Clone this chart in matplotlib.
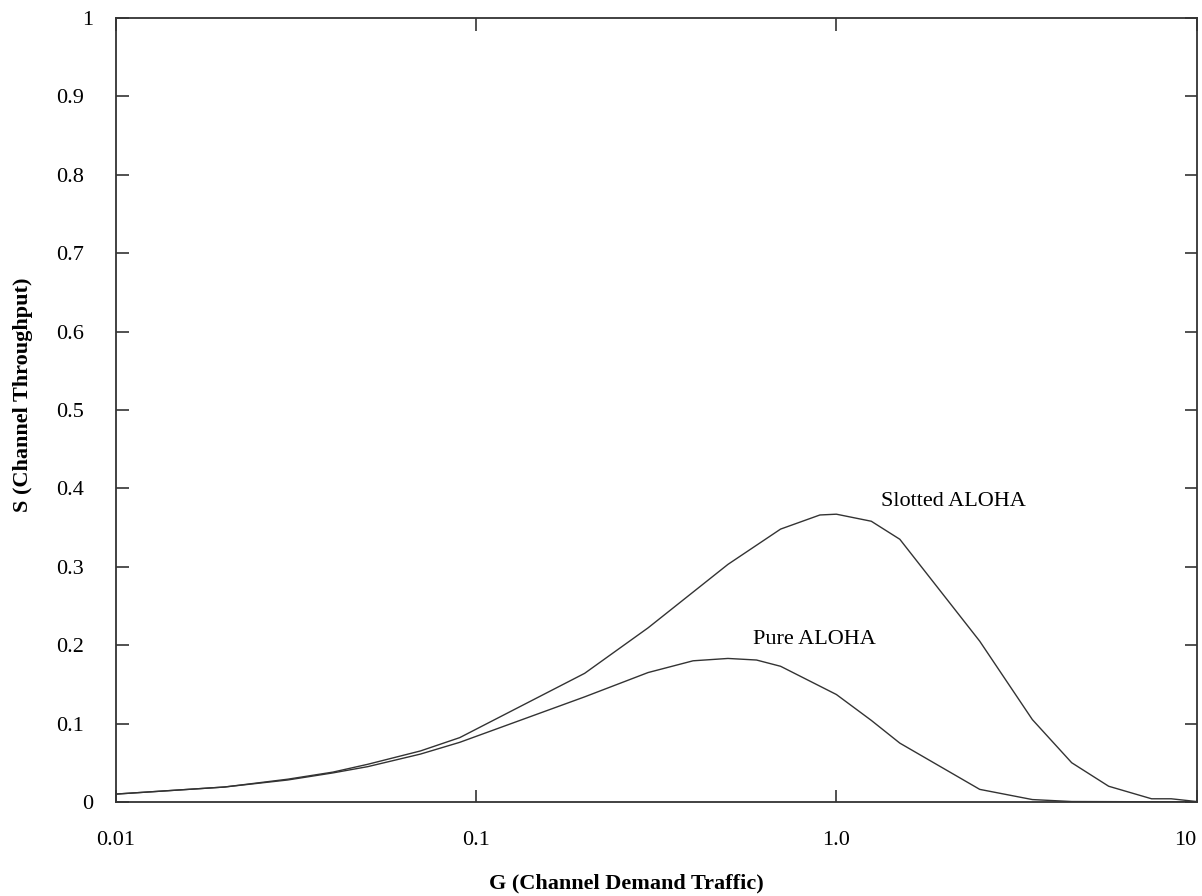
import matplotlib.pyplot as plt
import matplotlib.ticker as mticker
import matplotlib.transforms as mtransforms

# values
g_slotted = [0.01, 0.02, 0.03, 0.04, 0.05, 0.07, 0.09, 0.2, 0.3, 0.5, 0.7, 0.9,
             1.0, 1.25, 1.5, 2.5, 3.5, 4.5, 5.7, 7.5, 8.5, 10]
s_slotted = [0.010, 0.019, 0.029, 0.038, 0.048, 0.065, 0.082, 0.164, 0.222, 0.303,
             0.348, 0.366, 0.367, 0.358, 0.335, 0.205, 0.105, 0.050, 0.020, 0.004,
             0.004, 0.0005]

g_pure = [0.01, 0.02, 0.03, 0.04, 0.05, 0.07, 0.09, 0.2, 0.3, 0.4, 0.5, 0.6, 0.7,
          1.0, 1.25, 1.5, 2.5, 3.5, 4.5, 10]
s_pure = [0.010, 0.019, 0.028, 0.037, 0.045, 0.061, 0.076, 0.134, 0.165, 0.180,
          0.183, 0.181, 0.173, 0.137, 0.104, 0.075, 0.016, 0.003, 0.0005, 0.0]

x_ticks = [0.01, 0.1, 1.0, 10]
x_labels = ['0.01', '0.1', '1.0', '10']
y_ticks = [0, 0.1, 0.2, 0.3, 0.4, 0.5, 0.6, 0.7, 0.8, 0.9, 1]
y_labels = ['0', '0.1', '0.2', '0.3', '0.4', '0.5', '0.6', '0.7', '0.8', '0.9', '1']

plt.rcParams['font.family'] = ['Liberation Serif', 'DejaVu Serif']

fig = plt.figure(figsize=(12.02, 8.96), dpi=100)
ax = fig.add_axes([0.0965, 0.105, 0.899, 0.875])

ax.plot(g_slotted, s_slotted, color='#333333', linewidth=1.0)
ax.plot(g_pure, s_pure, color='#333333', linewidth=1.0)

ax.text(2.11, 0.383, 'Slotted ALOHA', fontsize=16, ha='center', va='center')
ax.text(0.87, 0.207, 'Pure ALOHA', fontsize=16, ha='center', va='center')

ax.set_xscale('log')
ax.set_xlim(0.01, 10)
ax.set_ylim(0, 1)
ax.set_xticks(x_ticks)
ax.set_xticklabels(x_labels)
ax.set_yticks(y_ticks)
ax.set_yticklabels(y_labels)
ax.xaxis.set_minor_locator(mticker.NullLocator())

ax.tick_params(axis='both', direction='in', length=9, width=1.2, labelsize=16,
               top=True, right=True, color='#333333')
ax.tick_params(axis='x', pad=21)
ax.tick_params(axis='y', pad=23)

# the last x label sits flush with the right edge, integer y labels sit further right
ax.get_xticklabels()[-1].set_horizontalalignment('right')
shift = mtransforms.ScaledTranslation(9 / 100, 0, fig.dpi_scale_trans)
for lab in ax.get_yticklabels():
    if lab.get_text() in ('0', '1'):
        lab.set_transform(lab.get_transform() + shift)

for sp in ax.spines.values():
    sp.set_linewidth(1.3)
    sp.set_color('#333333')

ax.set_xlabel('G (Channel Demand Traffic)', fontsize=16, fontweight='bold')
ax.xaxis.set_label_coords(0.472, -0.091)
ax.set_ylabel('S (Channel Throughput)', fontsize=16, fontweight='bold')
ax.yaxis.set_label_coords(-0.077, 0.519)

fig.savefig('out.png', dpi=100)
plt.close(fig)
